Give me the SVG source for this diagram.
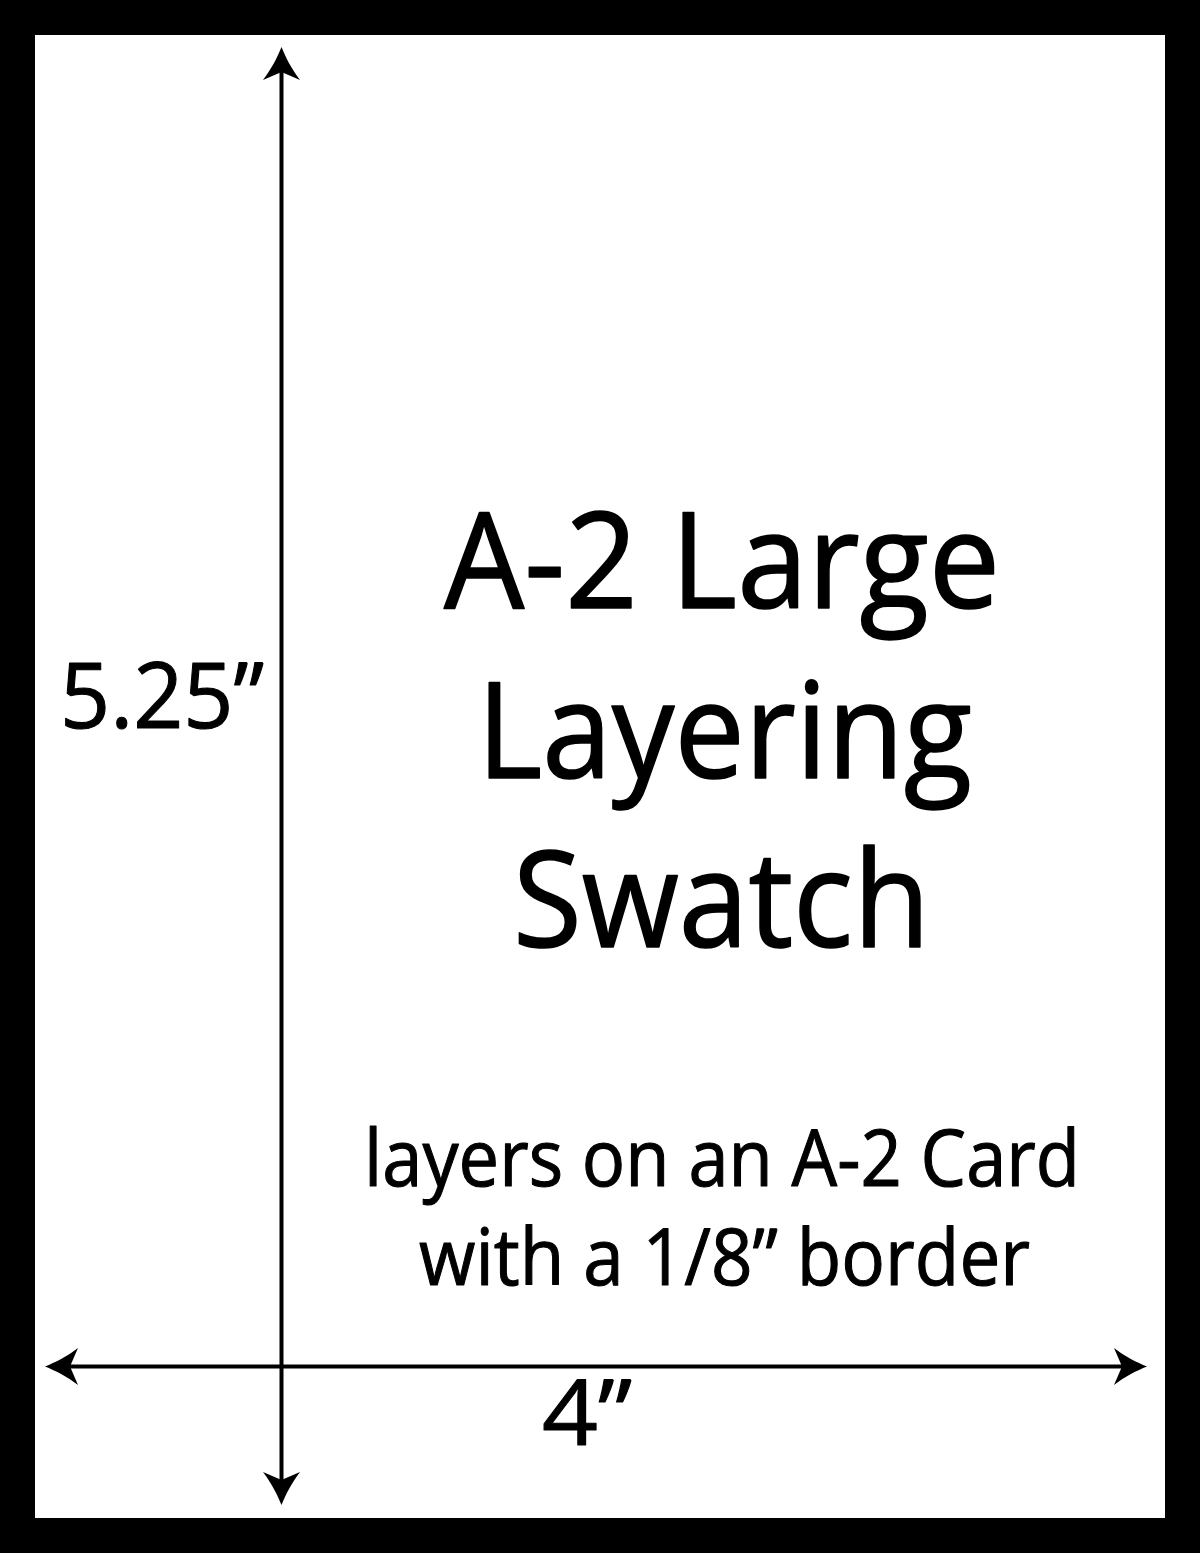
<svg xmlns="http://www.w3.org/2000/svg" width="1200" height="1553" viewBox="0 0 1200 1553">
  <style>
    .t { font-family: "Open Sans", "Liberation Sans", sans-serif; fill: #000; stroke: #000; stroke-linejoin: round; }
    .big { stroke-width: 1.6; }
    .small { stroke-width: 1.1; }
    .dim { stroke: #000; stroke-width: 4; fill: none; marker-start: url(#arrow); marker-end: url(#arrow); }
  </style>
  <defs>
    <marker id="arrow" markerUnits="userSpaceOnUse" markerWidth="40" markerHeight="40" viewBox="-36 -20 40 40" refX="-24" refY="0" orient="auto-start-reverse">
      <path d="M0,0 C-10,-4 -22,-10 -33,-18.5 L-25,0 L-33,18.5 C-22,10 -10,4 0,0 Z" fill="#000"/>
    </marker>
  </defs>

  <g id="frame">
    <rect x="0" y="0" width="1200" height="1553" fill="#000"/>
    <rect x="35" y="35" width="1130" height="1483" fill="#fff"/>
  </g>

  <g id="connectors">
    <line id="height-dim" class="dim" x1="281.5" y1="71" x2="281.5" y2="1481"/>
    <line id="width-dim" class="dim" x1="69" y1="1366.5" x2="1123" y2="1366.5"/>
  </g>

  <g id="title">
    <text class="t big" x="444" y="608" font-size="133" textLength="556" lengthAdjust="spacingAndGlyphs">A-2 Large</text>
    <text class="t big" x="477" y="778" font-size="133" textLength="495" lengthAdjust="spacingAndGlyphs">Layering</text>
    <text class="t big" x="513" y="947" font-size="133" textLength="417" lengthAdjust="spacingAndGlyphs">Swatch</text>
  </g>

  <g id="subtitle">
    <text class="t small" x="364" y="1186" font-size="78" textLength="716" lengthAdjust="spacingAndGlyphs">layers on an A-2 Card</text>
    <text class="t small" x="419" y="1285" font-size="78" textLength="611" lengthAdjust="spacingAndGlyphs">with a 1/8” border</text>
  </g>

  <g id="height-label">
    <text class="t small" x="60" y="728" font-size="91" textLength="204" lengthAdjust="spacingAndGlyphs">5.25”</text>
  </g>

  <g id="width-label">
    <text class="t small" x="542" y="1445" font-size="91" textLength="90" lengthAdjust="spacingAndGlyphs">4”</text>
  </g>
</svg>
